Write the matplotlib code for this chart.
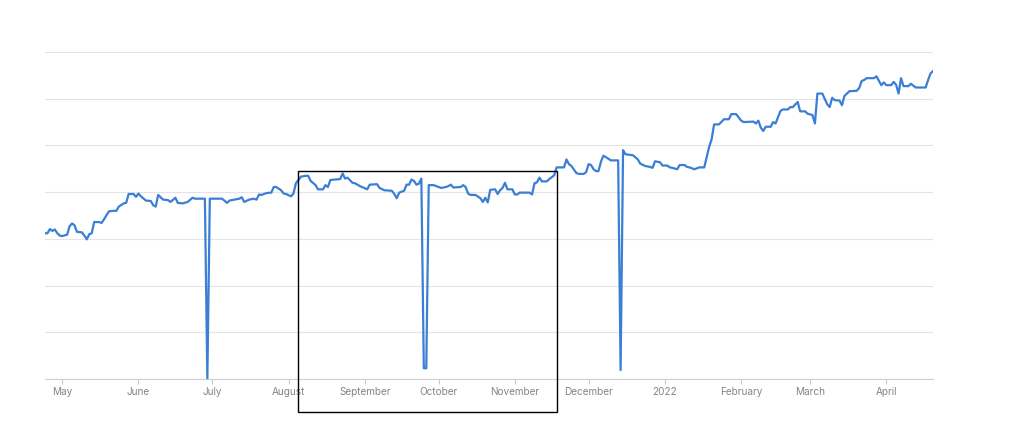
import matplotlib
matplotlib.use("Agg")
import matplotlib.pyplot as plt
import matplotlib.dates as mdates
from matplotlib.patches import Rectangle
import pandas as pd

# observations: days counted from 2021-05-01, value (gridlines every 100)
start = pd.Timestamp("2021-05-01")
day_offsets = [
    -7, -6, -5, -4, -3, -2, -1, 0, 2, 3, 4, 5, 6, 8, 9, 10, 11, 12, 13, 15, 16, 17, 19, 21, 22, 23,
    25, 26, 27, 29, 30, 31, 32, 34, 36, 37, 38, 39, 40, 41, 43, 44, 46, 47, 49, 51, 53, 54, 56, 58,
    59, 60, 65, 67, 68, 70, 72, 73, 74, 76, 78, 79, 80, 81, 82, 83, 85, 86, 87, 89, 90, 91, 93, 94,
    95, 97, 99, 100, 101, 103, 104, 106, 107, 108, 109, 111, 113, 114, 115, 116, 118, 119, 121, 124,
    125, 128, 129, 131, 134, 135, 136, 137, 139, 140, 141, 142, 143, 144, 145, 146, 147, 148, 149, 151,
    152, 154, 156, 157, 158, 159, 162, 163, 164, 165, 166, 168, 170, 171, 172, 173, 174, 176, 177,
    178, 179, 180, 181, 183, 184, 185, 186, 190, 191, 192, 193, 194, 195, 197, 198, 200, 201, 204,
    205, 206, 207, 209, 210, 212, 213, 214, 215, 216, 217, 218, 219, 220, 221, 223, 226, 227, 228,
    229, 232, 234, 235, 237, 239, 240, 241, 243, 244, 246, 247, 248, 250, 251, 253, 254, 255, 257,
    259, 261, 263, 264, 265, 267, 269, 271, 272, 274, 276, 277, 281, 282, 283, 284, 285, 286, 288,
    289, 290, 292, 293, 295, 296, 297, 299, 300, 302, 303, 305, 306, 307, 309, 311, 312, 313, 314,
    316, 317, 318, 320, 323, 324, 325, 326, 327, 330, 331, 333, 334, 335, 337, 338, 339, 340, 341,
    342, 344, 345, 347, 351, 352, 353, 354,
]
values = [
    312, 312, 321, 317, 320, 312, 307, 306, 309, 327, 333, 329, 315, 314, 307, 299, 310, 312, 336, 336, 334, 342, 359, 360, 360, 369,
    376, 377, 396, 396, 390, 397, 391, 382, 381, 372, 369, 394, 389, 384, 383, 379, 388, 377, 376, 379, 388, 386, 386, 386,
    0, 386, 386, 377, 382, 384, 386, 389, 379, 384, 386, 384, 395, 394, 396, 398, 399, 411, 411, 404, 397, 396, 391, 397,
    419, 433, 435, 435, 424, 415, 406, 406, 415, 411, 426, 427, 428, 440, 429, 431, 420, 419, 413, 406,
    416, 417, 409, 404, 403, 396, 387, 399, 403, 416, 416, 427, 424, 416, 418, 429, 23, 23, 415, 415,
    413, 409, 411, 413, 416, 410, 411, 415, 411, 397, 394, 394, 387, 379, 388, 378, 405, 406, 396,
    404, 409, 420, 406, 406, 395, 395, 399, 399, 395, 419, 421, 431, 423, 423, 428, 436, 453, 453,
    470, 460, 456, 441, 439, 439, 443, 460, 458, 449, 445, 445, 465, 478, 475, 468, 468, 19, 490,
    481, 479, 470, 461, 456, 454, 452, 466, 464, 457, 457, 453, 452, 449, 458, 458, 454, 453, 449,
    453, 453, 497, 513, 545, 545, 556, 556, 567, 567, 553, 550, 551, 547, 553, 538, 531, 540, 540,
    550, 547, 574, 577, 577, 582, 582, 593, 573, 573, 568, 565, 547, 611, 611, 588, 582, 602, 597,
    596, 586, 606, 616, 617, 623, 638, 640, 644, 644, 648, 629, 635, 629, 629, 636, 630, 611, 644,
    627, 627, 632, 624, 624, 640, 654, 659,
]
dates = start + pd.to_timedelta(day_offsets, unit="D")

# highlighted window (black box)
box_start = pd.Timestamp("2021-08-05")
box_end = pd.Timestamp("2021-11-18")
box_low, box_high = -70, 445

plt.rcParams["font.family"] = ["Inter", "DejaVu Sans"]

fig = plt.figure(figsize=(10.18, 4.46), dpi=100)
ax = fig.add_axes([45 / 1018, 67 / 446, 888 / 1018, 327 / 446])

ax.plot(dates, values, color="#3a7fd5", lw=1.6, solid_joinstyle="round", zorder=3)

ax.set_xlim(start - pd.Timedelta(days=7), start + pd.Timedelta(days=354))
ax.set_ylim(0, 700)
ax.set_yticks(range(0, 701, 100))
ax.yaxis.grid(True, color="#e4e4e4", lw=0.8)
ax.tick_params(axis="y", left=False, labelleft=False)

ax.xaxis.set_major_locator(mdates.MonthLocator())
ax.xaxis.set_major_formatter(
    plt.FuncFormatter(lambda x, pos: mdates.num2date(x).strftime("%Y" if mdates.num2date(x).month == 1 else "%B"))
)
ax.tick_params(axis="x", length=3.5, width=0.8, color="#c8c8c8", labelcolor="#858585", labelsize=7.2, pad=2.5)

for s in ["top", "left", "right"]:
    ax.spines[s].set_visible(False)
ax.spines["bottom"].set_color("#cfcfcf")
ax.spines["bottom"].set_linewidth(0.8)

x0 = mdates.date2num(box_start)
x1 = mdates.date2num(box_end)
ax.add_patch(Rectangle((x0, box_low), x1 - x0, box_high - box_low, fill=False,
                       edgecolor="black", lw=1.0, clip_on=False, zorder=5))

fig.savefig("out.png", dpi=100, facecolor="white")
